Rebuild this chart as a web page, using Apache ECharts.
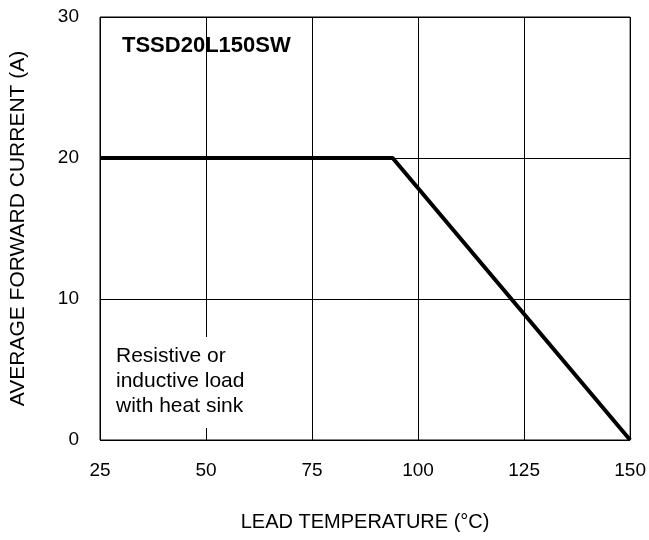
<!DOCTYPE html>
<html><head><meta charset="utf-8">
<script src="https://cdn.jsdelivr.net/npm/echarts@6/dist/echarts.min.js"></script>
<style>html,body{margin:0;padding:0;background:#fff}#c{width:649px;height:540px}</style>
</head><body><div id="c"></div>
<script>
const temps = [25, 94, 150];
const current = [20, 20, 0];
const xTicks = [25, 50, 75, 100, 125, 150];
const yTicks = [0, 10, 20, 30];
const partName = 'TSSD20L150SW';
const noteLines = ['Resistive or', 'inductive load', 'with heat sink'];
const xName = 'LEAD TEMPERATURE (°C)';
const yName = 'AVERAGE FORWARD CURRENT (A)';

const F = '"Liberation Sans", Arial, sans-serif';
const chart = echarts.init(document.getElementById('c'));
chart.setOption({
  animation: false,
  backgroundColor: '#fff',
  grid: { left: 99, right: 17, top: 17, bottom: 100, show: true, borderColor: '#000', borderWidth: 1 },
  xAxis: {
    type: 'value', min: xTicks[0], max: xTicks[xTicks.length - 1], interval: 25,
    name: xName, nameLocation: 'middle', nameGap: 72,
    nameTextStyle: { fontFamily: F, fontSize: 20, color: '#000' },
    axisLine: { show: false }, axisTick: { show: false },
    axisLabel: { fontFamily: F, fontSize: 19, color: '#000', margin: 21 },
    splitLine: { show: true, lineStyle: { color: '#000', width: 1 } }
  },
  yAxis: {
    type: 'value', min: yTicks[0], max: yTicks[yTicks.length - 1], interval: 10,
    name: yName, nameLocation: 'middle', nameGap: 71,
    nameTextStyle: { fontFamily: F, fontSize: 21, color: '#000' },
    axisLine: { show: false }, axisTick: { show: false },
    axisLabel: { fontFamily: F, fontSize: 19, color: '#000', margin: 21 },
    splitLine: { show: true, lineStyle: { color: '#000', width: 1 } }
  },
  graphic: [
    { type: 'text', left: 122, top: 35, z: 10,
      style: { text: partName, fontFamily: F, fontSize: 22, fontWeight: 'bold', fill: '#000' } },
    { type: 'text', left: 106, top: 337, z: 10,
      style: { text: noteLines.join('\n'), fontFamily: F, fontSize: 21, lineHeight: 25, fill: '#000',
               backgroundColor: '#fff', padding: [7, 10, 9, 10] } }
  ],
  series: [{
    type: 'line', data: temps.map((t, i) => [t, current[i]]),
    symbol: 'none', lineStyle: { color: '#000', width: 4 }, z: 5
  }]
});
</script></body></html>
